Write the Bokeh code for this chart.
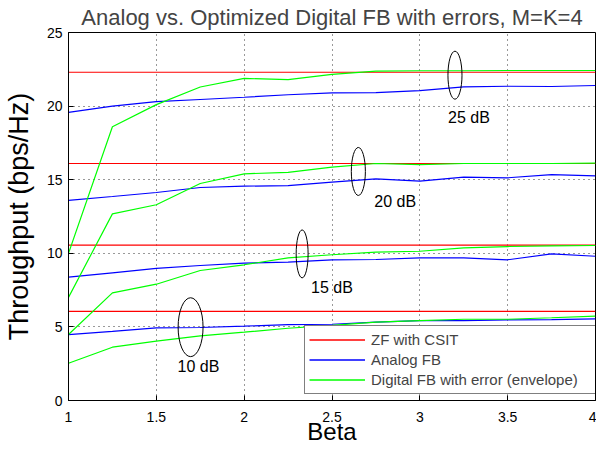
from bokeh.plotting import figure
from bokeh.models import FixedTicker, Legend, LegendItem, Range1d
from bokeh.embed import file_html
from bokeh.resources import INLINE
from bokeh.core.properties import value

# ---------------- data ----------------
beta = [1, 1.25, 1.5, 1.75, 2, 2.25, 2.5, 2.75, 3, 3.25, 3.5, 3.75, 4]

snr_labels = ["10 dB", "15 dB", "20 dB", "25 dB"]

zf_csit = [6.05, 10.55, 16.1, 22.3]

analog_10 = [4.48, 4.69, 4.94, 4.96, 5.05, 5.16, 5.18, 5.32, 5.43, 5.43, 5.48, 5.50, 5.55]
analog_15 = [8.38, 8.67, 8.97, 9.17, 9.33, 9.40, 9.56, 9.58, 9.69, 9.69, 9.56, 9.96, 9.80]
analog_20 = [13.60, 13.86, 14.13, 14.47, 14.56, 14.60, 14.83, 15.06, 14.90, 15.17, 15.13, 15.35, 15.26]
analog_25 = [19.57, 20.00, 20.30, 20.45, 20.60, 20.77, 20.90, 20.92, 21.05, 21.30, 21.35, 21.33, 21.40]

digital_10 = [2.53, 3.62, 4.03, 4.39, 4.64, 4.91, 5.10, 5.32, 5.43, 5.52, 5.52, 5.62, 5.73]
digital_15 = [4.48, 7.31, 7.90, 8.83, 9.22, 9.69, 9.90, 10.08, 10.14, 10.37, 10.46, 10.50, 10.53]
digital_20 = [7.00, 12.68, 13.30, 14.74, 15.40, 15.50, 15.85, 16.10, 16.03, 16.10, 16.10, 16.10, 16.12]
digital_25 = [10.00, 18.60, 20.10, 21.30, 21.88, 21.80, 22.15, 22.37, 22.40, 22.40, 22.42, 22.42, 22.42]

series_names = ["ZF with CSIT", "Analog FB", "Digital FB with error (envelope)"]

x_ticks = [1, 1.5, 2, 2.5, 3, 3.5, 4]
x_tick_labels = ["1", "1.5", "2", "2.5", "3", "3.5", "4"]
y_ticks = [0, 5, 10, 15, 20, 25]
y_tick_labels = ["0", "5", "10", "15", "20", "25"]

# annotation placement (ellipse marks and their labels)
ell_x = [1.695, 2.33, 2.65, 3.2]
ell_y = [4.98, 9.96, 15.56, 22.1]
ell_w = [0.142, 0.068, 0.08, 0.08]
ell_h = [4.0, 3.26, 3.26, 3.26]
lab_x = [1.74, 2.5, 2.86, 3.28]
lab_y = [2.33, 7.7, 13.5, 19.22]

FONT = "Liberation Sans"
RED, BLUE, GREEN = "#FF0000", "#0000FF", "#00FF00"

W, H = 596, 452
BL, BR, BT, BB = 67, 1, 32, 52

# ---------------- figure ----------------
p = figure(width=W, height=H, output_backend="svg", toolbar_location=None,
           x_range=Range1d(1, 4), y_range=Range1d(0, 25),
           min_border_left=BL, min_border_right=BR, min_border_top=BT, min_border_bottom=BB,
           background_fill_color="white", border_fill_color="white")

p.title.text = "Analog vs. Optimized Digital FB with errors, M=K=4"
p.title.align = "center"
p.title.text_font = FONT
p.title.text_font_size = "22px"
p.title.text_font_style = "normal"
p.title.standoff = 5
p.title.offset = 0

p.outline_line_color = "black"
p.outline_line_width = 1
p.outline_line_alpha = 1

for ax in (p.xaxis[0], p.yaxis[0]):
    ax.axis_line_color = "black"
    ax.major_tick_in = 5
    ax.major_tick_out = 0
    ax.minor_tick_line_color = None
    ax.major_label_text_font = FONT
    ax.major_label_text_font_size = "14px"
    ax.major_label_text_color = "black"
    ax.axis_label_text_font = FONT
    ax.axis_label_text_font_style = "normal"
    ax.axis_label_text_color = "black"

p.xaxis.ticker = FixedTicker(ticks=x_ticks)
p.xaxis.major_label_overrides = dict(zip(x_ticks, x_tick_labels))
p.xaxis.major_label_standoff = 11
p.xaxis.axis_label = "Beta"
p.xaxis.axis_label_text_font_size = "24px"
p.xaxis.axis_label_standoff = -7

p.yaxis.ticker = FixedTicker(ticks=y_ticks)
p.yaxis.major_label_overrides = dict(zip(y_ticks, y_tick_labels))
p.yaxis.major_label_standoff = 6
p.yaxis.axis_label = "Throughput (bps/Hz)"
p.yaxis.axis_label_text_font_size = "27px"
p.yaxis.axis_label_standoff = 10

for g in (p.xgrid[0], p.ygrid[0]):
    g.grid_line_color = "black"
    g.grid_line_alpha = 0.8
    g.grid_line_dash = "1 4"
    g.grid_line_width = 1
p.xgrid.ticker = FixedTicker(ticks=x_ticks)
p.ygrid.ticker = FixedTicker(ticks=y_ticks)

# ---------------- series ----------------
analog = [analog_10, analog_15, analog_20, analog_25]
digital = [digital_10, digital_15, digital_20, digital_25]

for zf in zf_csit:
    p.line(beta, [zf] * len(beta), line_color=RED, line_width=1.2)
for a in analog:
    p.line(beta, a, line_color=BLUE, line_width=1.2)
for d in digital:
    p.line(beta, d, line_color=GREEN, line_width=1.2)

# ---------------- ellipses and SNR labels ----------------
p.ellipse(x=ell_x, y=ell_y, width=ell_w, height=ell_h,
          fill_color=None, line_color="black", line_width=1)
p.text(x=lab_x, y=lab_y, text=snr_labels, text_align="center", text_baseline="middle",
       text_font=value(FONT), text_font_size="16px", text_color="black")

# ---------------- legend ----------------
leg_r = [p.line(x=[float("nan")], y=[float("nan")], line_color=c, line_width=1.5)
         for c in (RED, BLUE, GREEN)]
legend = Legend(items=[LegendItem(label=n, renderers=[r]) for n, r in zip(series_names, leg_r)])
pad, gw, ls, lw = 4, 56, 6, 222
legend.margin = 0
legend.padding = pad
legend.spacing = 1
legend.glyph_width = gw
legend.glyph_height = 19
legend.label_height = 19
legend.label_width = lw
legend.label_standoff = ls
legend.label_text_font = FONT
legend.label_text_font_size = "15px"
legend.border_line_color = "black"
legend.border_line_width = 1
legend.background_fill_color = "white"
legend.background_fill_alpha = 1
frame_w = W - BL - BR
legend.location = (frame_w - (2 * pad + gw + ls + lw), 6)
p.add_layout(legend)

open("out.html", "w").write(file_html(p, INLINE))
